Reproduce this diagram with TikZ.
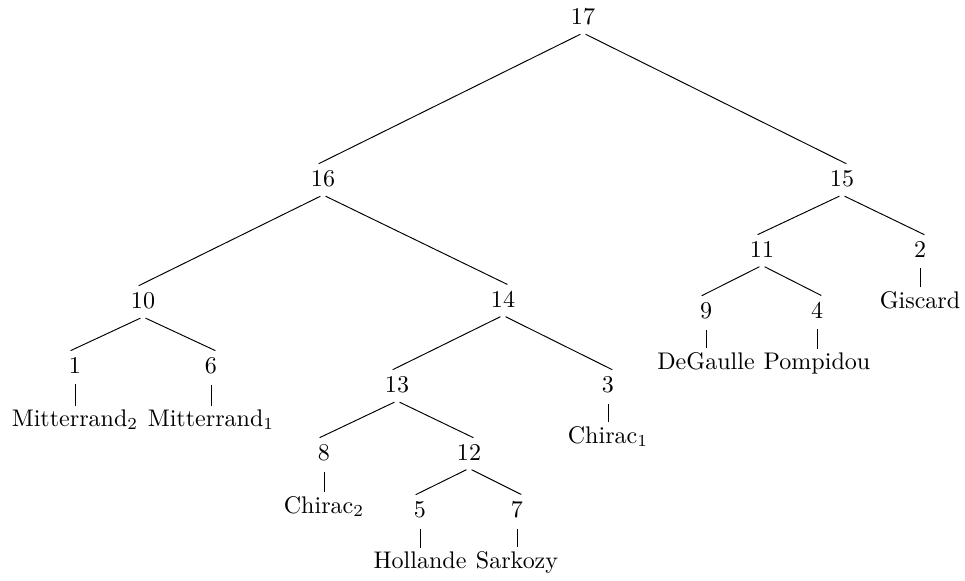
\documentclass[tikz,border=0pt]{standalone}
\begin{document}
\begin{tikzpicture}[x=0.416pt,y=0.416pt,yscale=-1,xscale=1,
  lbl/.style={anchor=base,inner sep=3.3pt},
  branch/.style={shorten <=1.2pt,shorten >=-2pt}]
\useasboundingbox (0,0) rectangle (965,580);

% Text Node
\node[lbl] (n17) at (583,24) {17};
% Text Node
\node[lbl] (n16) at (323,186) {16};
% Text Node
\node[lbl] (n15) at (842,186) {15};
% Text Node
\node[lbl] (n11) at (762,257) {11};
% Text Node
\node[lbl] (n2) at (920,257) {2};
% Text Node
\node[lbl] (n10) at (143,308) {10};
% Text Node
\node[lbl] (n14) at (503,307) {14};
% Text Node
\node[lbl] (n9) at (706,318) {9};
% Text Node
\node[lbl] (n4) at (817,318) {4};
% Text Node
\node[lbl] (n1) at (75,373) {1};
% Text Node
\node[lbl] (n6) at (211,373) {6};
% Text Node
\node[lbl] (n13) at (397,392) {13};
% Text Node
\node[lbl] (n3) at (608,392) {3};
% Text Node
\node[lbl] (n8) at (324,460) {8};
% Text Node
\node[lbl] (n12) at (469,460) {12};
% Text Node
\node[lbl] (n5) at (420,517) {5};
% Text Node
\node[lbl] (n7) at (517,517) {7};

% Leaves
\node[lbl] (giscard) at (920,308) {Giscard};
\node[lbl] (degaulle) at (706,369) {DeGaulle};
\node[lbl] (pompidou) at (817,369) {Pompidou};
\node[lbl] (mitt2) at (75,426) {Mitterrand$_2$};
\node[lbl] (mitt1) at (211,426) {Mitterrand$_1$};
\node[lbl] (chirac1) at (608,443) {Chirac$_1$};
\node[lbl] (chirac2) at (324,513) {Chirac$_2$};
\node[lbl] (hollande) at (420,568) {Hollande};
\node[lbl] (sarkozy) at (517,568) {Sarkozy};

%Straight Lines
\draw[branch] (n17.south) -- (n16.north) ;
\draw[branch] (n17.south) -- (n15.north) ;
\draw[branch] (n16.south) -- (n10.north) ;
\draw[branch] (n16.south) -- (n14.north) ;
\draw[branch] (n15.south) -- (n11.north) ;
\draw[branch] (n15.south) -- (n2.north) ;
\draw[branch] (n10.south) -- (n1.north) ;
\draw[branch] (n10.south) -- (n6.north) ;
\draw[branch] (n14.south) -- (n13.north) ;
\draw[branch] (n14.south) -- (n3.north) ;
\draw[branch] (n11.south) -- (n9.north) ;
\draw[branch] (n11.south) -- (n4.north) ;
\draw[branch] (n13.south) -- (n8.north) ;
\draw[branch] (n13.south) -- (n12.north) ;
\draw[branch] (n12.south) -- (n5.north) ;
\draw[branch] (n12.south) -- (n7.north) ;
%Straight Lines
\draw[branch] (n2.south) -- (giscard.north) ;
\draw[branch] (n9.south) -- (degaulle.north) ;
\draw[branch] (n4.south) -- (pompidou.north) ;
\draw[branch] (n1.south) -- (mitt2.north) ;
\draw[branch] (n6.south) -- (mitt1.north) ;
\draw[branch] (n3.south) -- (chirac1.north) ;
\draw[branch] (n8.south) -- (chirac2.north) ;
\draw[branch] (n5.south) -- (hollande.north) ;
\draw[branch] (n7.south) -- (sarkozy.north) ;

\end{tikzpicture}
\end{document}
